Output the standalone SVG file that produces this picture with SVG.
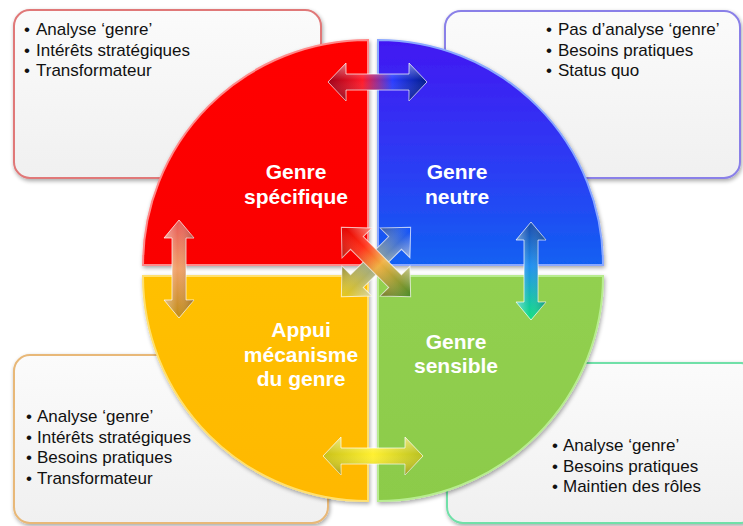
<svg xmlns="http://www.w3.org/2000/svg" width="743" height="526" viewBox="0 0 743 526">
  <defs>
    <linearGradient id="boxFill" x1="0" y1="0" x2="0" y2="1">
      <stop offset="0" stop-color="#fbfbfb"/>
      <stop offset="1" stop-color="#f0f0f0"/>
    </linearGradient>
    <linearGradient id="gRed" x1="0" y1="0" x2="0" y2="1">
      <stop offset="0" stop-color="#ff0505"/>
      <stop offset="1" stop-color="#fa0000"/>
    </linearGradient>
    <linearGradient id="gBlue" x1="0" y1="0" x2="0" y2="1">
      <stop offset="0" stop-color="#4218f2"/>
      <stop offset="0.6" stop-color="#2a3ff4"/>
      <stop offset="1" stop-color="#1160f2"/>
    </linearGradient>
    <linearGradient id="gYellow" x1="0" y1="0" x2="0" y2="1">
      <stop offset="0" stop-color="#ffc000"/>
      <stop offset="1" stop-color="#ffb800"/>
    </linearGradient>
    <linearGradient id="gGreen" x1="0" y1="0" x2="0" y2="1">
      <stop offset="0" stop-color="#92d050"/>
      <stop offset="1" stop-color="#8ccb4a"/>
    </linearGradient>
    <linearGradient id="aTop" x1="0" y1="0" x2="1" y2="0">
      <stop offset="0" stop-color="#a00018"/>
      <stop offset="0.35" stop-color="#ff1a2a"/>
      <stop offset="0.65" stop-color="#2a3cff"/>
      <stop offset="1" stop-color="#001a8a"/>
    </linearGradient>
    <linearGradient id="aLeft" x1="0" y1="0" x2="0" y2="1">
      <stop offset="0" stop-color="#e85a58"/>
      <stop offset="0.5" stop-color="#f0a068"/>
      <stop offset="1" stop-color="#c08c18"/>
    </linearGradient>
    <linearGradient id="aRight" x1="0" y1="0" x2="0" y2="1">
      <stop offset="0" stop-color="#1a4aa8"/>
      <stop offset="0.45" stop-color="#2090f0"/>
      <stop offset="1" stop-color="#10e080"/>
    </linearGradient>
    <linearGradient id="aBottom" x1="0" y1="0" x2="1" y2="0">
      <stop offset="0" stop-color="#c8c018"/>
      <stop offset="0.5" stop-color="#fff030"/>
      <stop offset="1" stop-color="#b8c020"/>
    </linearGradient>
    <linearGradient id="aDiag1" x1="0" y1="0" x2="1" y2="0">
      <stop offset="0" stop-color="#e00000"/>
      <stop offset="0.3" stop-color="#ff3018"/>
      <stop offset="0.55" stop-color="#f0b040"/>
      <stop offset="1" stop-color="#4a8a28"/>
    </linearGradient>
    <linearGradient id="aDiag2" x1="0" y1="0" x2="1" y2="0">
      <stop offset="0" stop-color="#0a4cff"/>
      <stop offset="0.45" stop-color="#8aa0a0"/>
      <stop offset="1" stop-color="#e8c818"/>
    </linearGradient>
    <linearGradient id="shineH" x1="0" y1="0" x2="0" y2="1">
      <stop offset="0" stop-color="#ffffff" stop-opacity="0.45"/>
      <stop offset="0.45" stop-color="#ffffff" stop-opacity="0"/>
      <stop offset="1" stop-color="#000000" stop-opacity="0.25"/>
    </linearGradient>
    <linearGradient id="shineV" x1="0" y1="0" x2="1" y2="0">
      <stop offset="0" stop-color="#ffffff" stop-opacity="0.4"/>
      <stop offset="0.45" stop-color="#ffffff" stop-opacity="0"/>
      <stop offset="1" stop-color="#000000" stop-opacity="0.25"/>
    </linearGradient>
    <filter id="shadow" x="-10%" y="-10%" width="120%" height="120%">
      <feGaussianBlur in="SourceAlpha" stdDeviation="2"/>
      <feOffset dx="1" dy="2" result="b"/>
      <feComponentTransfer><feFuncA type="linear" slope="0.35"/></feComponentTransfer>
      <feMerge><feMergeNode/><feMergeNode in="SourceGraphic"/></feMerge>
    </filter>
    <path id="dblH" d="M-49,0 L-27,-21 L-27,-9 L27,-9 L27,-21 L49,0 L27,21 L27,9 L-27,9 L-27,21 Z"/>
  </defs>
  <style>
    .box { fill: url(#boxFill); stroke-width: 2; filter: url(#shadow); }
    .txt { font-family: "Liberation Sans", Arial, sans-serif; font-size: 17px; fill: #111111; }
    .lbl { font-family: "Liberation Sans", Arial, sans-serif; font-size: 21px; font-weight: bold; fill: #ffffff; text-anchor: middle; }
    .quad { stroke-width: 2; filter: url(#shadow); }
    .arrow { stroke: #ffffff; stroke-opacity: 0.7; stroke-width: 1; }
  </style>
  <rect width="743" height="526" fill="#ffffff"/>

  <g id="box-top-left">
    <rect class="box" x="14" y="10" width="307" height="168" rx="16" stroke="#e07878"/>
    <text class="txt" x="24" y="35">•<tspan x="36">Analyse ‘genre’</tspan></text>
    <text class="txt" x="24" y="55.5">•<tspan x="36">Intérêts stratégiques</tspan></text>
    <text class="txt" x="24" y="76">•<tspan x="36">Transformateur</tspan></text>
  </g>
  <g id="box-top-right">
    <rect class="box" x="445" y="11" width="295" height="167" rx="16" stroke="#8a80e8"/>
    <text class="txt" x="546" y="35">•<tspan x="558">Pas d’analyse ‘genre’</tspan></text>
    <text class="txt" x="546" y="55.5">•<tspan x="558">Besoins pratiques</tspan></text>
    <text class="txt" x="546" y="76">•<tspan x="558">Status quo</tspan></text>
  </g>
  <g id="box-bottom-left">
    <rect class="box" x="14" y="355" width="314" height="168" rx="16" stroke="#e8b878"/>
    <text class="txt" x="26" y="422">•<tspan x="37">Analyse ‘genre’</tspan></text>
    <text class="txt" x="26" y="442.5">•<tspan x="37">Intérêts stratégiques</tspan></text>
    <text class="txt" x="26" y="463">•<tspan x="37">Besoins pratiques</tspan></text>
    <text class="txt" x="26" y="483.5">•<tspan x="37">Transformateur</tspan></text>
  </g>
  <g id="box-bottom-right">
    <rect class="box" x="447" y="363" width="310" height="160" rx="16" stroke="#70e0a8"/>
    <text class="txt" x="552" y="451">•<tspan x="563">Analyse ‘genre’</tspan></text>
    <text class="txt" x="552" y="471.5">•<tspan x="563">Besoins pratiques</tspan></text>
    <text class="txt" x="552" y="492">•<tspan x="563">Maintien des rôles</tspan></text>
  </g>

  <g id="quad-red">
    <path class="quad" d="M368,265 L143,265 A225,225 0 0 1 368,40 Z" fill="url(#gRed)" stroke="#ff8a8a"/>
    <text class="lbl" x="296" y="179">Genre</text>
    <text class="lbl" x="296" y="204">spécifique</text>
  </g>
  <g id="quad-blue">
    <path class="quad" d="M378,265 L378,40 A225,225 0 0 1 603,265 Z" fill="url(#gBlue)" stroke="#8aa8ff"/>
    <text class="lbl" x="457" y="179">Genre</text>
    <text class="lbl" x="457" y="204">neutre</text>
  </g>
  <g id="quad-yellow">
    <path class="quad" d="M368,276 L368,501 A225,225 0 0 1 143,276 Z" fill="url(#gYellow)" stroke="#ffe070"/>
    <text class="lbl" x="301" y="337">Appui</text>
    <text class="lbl" x="301" y="362">mécanisme</text>
    <text class="lbl" x="301" y="386">du genre</text>
  </g>
  <g id="quad-green">
    <path class="quad" d="M378,276 L603,276 A225,225 0 0 1 378,501 Z" fill="url(#gGreen)" stroke="#b8ec90"/>
    <text class="lbl" x="456" y="349">Genre</text>
    <text class="lbl" x="456" y="373">sensible</text>
  </g>

  <g id="connectors">
    <g class="arrow">
      <path d="M328,82 L346,63 L346,74 L409,74 L409,63 L427,82 L409,101 L409,90 L346,90 L346,101 Z" fill="url(#aTop)"/>
      <path d="M328,82 L346,63 L346,74 L409,74 L409,63 L427,82 L409,101 L409,90 L346,90 L346,101 Z" fill="url(#shineH)" stroke="none"/>

      <path d="M179,220 L194,238 L186,238 L186,300 L194,300 L179,318 L164,300 L172,300 L172,238 L164,238 Z" fill="url(#aLeft)"/>
      <path d="M179,220 L194,238 L186,238 L186,300 L194,300 L179,318 L164,300 L172,300 L172,238 L164,238 Z" fill="url(#shineV)" stroke="none"/>

      <path d="M531,222 L546,240 L538,240 L538,302 L546,302 L531,320 L516,302 L524,302 L524,240 L516,240 Z" fill="url(#aRight)"/>
      <path d="M531,222 L546,240 L538,240 L538,302 L546,302 L531,320 L516,302 L524,302 L524,240 L516,240 Z" fill="url(#shineV)" stroke="none"/>

      <path d="M323,456 L341,437 L341,448 L405,448 L405,437 L423,456 L405,475 L405,464 L341,464 L341,475 Z" fill="url(#aBottom)"/>
      <path d="M323,456 L341,437 L341,448 L405,448 L405,437 L423,456 L405,475 L405,464 L341,464 L341,475 Z" fill="url(#shineH)" stroke="none"/>

      <g transform="translate(376,262) rotate(135)">
        <use href="#dblH" fill="url(#aDiag2)"/>
        <use href="#dblH" fill="url(#shineH)" stroke="none"/>
      </g>
      <g transform="translate(376,262) rotate(45)">
        <use href="#dblH" fill="url(#aDiag1)"/>
        <use href="#dblH" fill="url(#shineH)" stroke="none"/>
      </g>
    </g>
  </g>
</svg>
